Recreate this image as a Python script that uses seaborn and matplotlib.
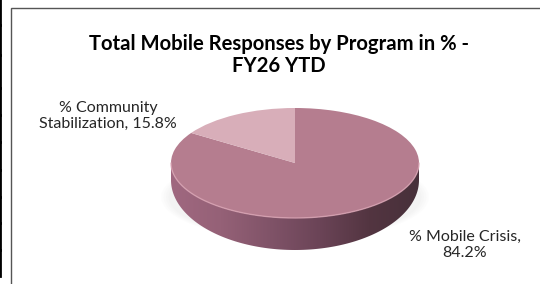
import numpy as np
import matplotlib
matplotlib.use("Agg")
import matplotlib.pyplot as plt
import seaborn as sns
from matplotlib.colors import LinearSegmentedColormap
from matplotlib.patches import Polygon, Rectangle

# data
programs = ["% Mobile Crisis", "% Community Stabilization"]
shares = [84.2, 15.8]
label_texts = ["% Mobile Crisis,\n84.2%", "% Community\nStabilization, 15.8%"]
title_text = "Total Mobile Responses by Program in % -\nFY26 YTD"

top_colors = ["#B57D8F", "#D8AEB9"]

sns.set_style("white")
plt.rcParams["font.family"] = ["Lato", "DejaVu Sans"]

W, H = 540, 284
fig = plt.figure(figsize=(W / 100, H / 100), dpi=100)

# pie geometry in pixels
cx, cy = 295, 163
a, b = 124, 55

# axes where the unit circle maps to the ellipse of the pie's top face
ax = fig.add_axes([0, 0, 1, 1])
ax.set_axis_off()

# side of the pie (visible front half), lower outline drawn with perspective
t = np.linspace(np.pi, 2 * np.pi, 200)
top_x, top_y = np.cos(t), np.sin(t)
bot_x, bot_y = np.cos(t), -17 / b + (70 / b) * np.sin(t)
side_xy = np.vstack([np.column_stack([top_x, top_y]),
                     np.column_stack([bot_x[::-1], bot_y[::-1]])])

# faint shadow
full = np.linspace(0, 2 * np.pi, 200)
for k in range(4):
    s = 1.0 + 0.02 * (k + 1)
    sh = np.column_stack([np.cos(full) * s, -0.62 + np.sin(full) * 0.72 * s])
    ax.add_patch(Polygon(sh, closed=True, facecolor="#9a9a9a", edgecolor="none",
                         alpha=0.025, zorder=1))

side = Polygon(side_xy, closed=True, facecolor="none", edgecolor="none", zorder=2)
ax.add_patch(side)
side_cmap = LinearSegmentedColormap.from_list(
    "side", ["#A06880", "#956177", "#805368", "#6B4457", "#533541", "#47303A"])
grad = np.linspace(0, 1, 256).reshape(1, -1)
im = ax.imshow(grad, cmap=side_cmap, aspect="auto", extent=[-1, 1, -1.6, 0],
               origin="lower", zorder=2, interpolation="bilinear")
im.set_clip_path(side)

# top face
ax.pie(shares, colors=top_colors, startangle=90, counterclock=False,
       radius=1, center=(0, 0), wedgeprops=dict(linewidth=0, zorder=3))

# light rim between top face and side
ax.plot(top_x, top_y, color="#D9A3B3", lw=1.0, alpha=0.8, zorder=4)

ax.set_aspect("auto")
ax.set_xlim(-cx / a, (W - cx) / a)
ax.set_ylim((cy - H) / b, cy / b)

# chart frame and the partial table to the left
fig.patches.append(Rectangle((11 / W, -0.1), 1.2, (H - 8) / H + 0.1,
                             transform=fig.transFigure, facecolor="none",
                             edgecolor="#555555", lw=1.0))
row_edges = [0, 25, 55, 88, 115, 142, 170, 197, 223, 250, 276]
row_fill = ["#C98EA0", "#E3C3CC", "white", "white", "white", "white",
            "white", "white", "white", "#E6E6E6"]
for i in range(len(row_edges) - 1):
    y0 = H - row_edges[i + 1]
    fig.patches.append(Rectangle((-0.01, y0 / H), 5 / W,
                                 (row_edges[i + 1] - row_edges[i]) / H,
                                 transform=fig.transFigure, facecolor=row_fill[i],
                                 edgecolor="black", lw=2.0))

# title and data labels (y is the baseline of the last line)
fig.text(279 / W, 1 - 72 / H, title_text, ha="center", va="baseline",
         fontsize=14.6, fontweight="bold", color="black", linespacing=1.15)
fig.text(108 / W, 1 - 128 / H, label_texts[1], ha="center", va="baseline",
         fontsize=11.5, color="#262626", linespacing=1.2)
fig.text(465 / W, 1 - 257 / H, label_texts[0], ha="center", va="baseline",
         fontsize=11.5, color="#262626", linespacing=1.2)

fig.savefig("out.png", dpi=100)
